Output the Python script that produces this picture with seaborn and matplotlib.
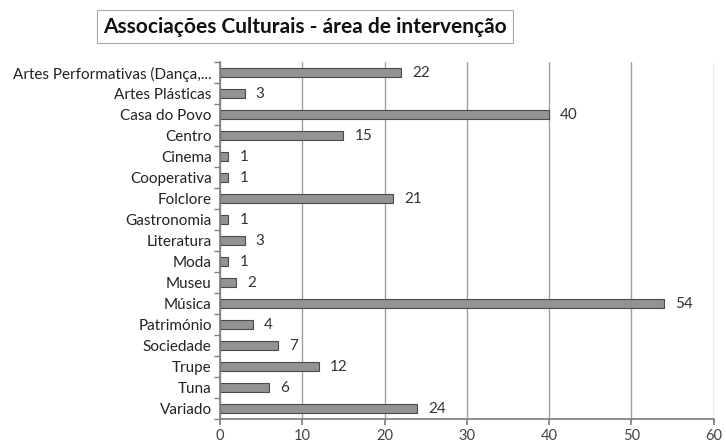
import matplotlib
matplotlib.use("Agg")
import matplotlib.pyplot as plt
import seaborn as sns
import pandas as pd

# Dados
categorias = ["Artes Performativas (Dança,...", "Artes Plásticas", "Casa do Povo", "Centro",
              "Cinema", "Cooperativa", "Folclore", "Gastronomia", "Literatura", "Moda",
              "Museu", "Música", "Património", "Sociedade", "Trupe", "Tuna", "Variado"]
valores = [22, 3, 40, 15, 1, 1, 21, 1, 3, 1, 2, 54, 4, 7, 12, 6, 24]
ticks_x = [0, 10, 20, 30, 40, 50, 60]

sns.set_theme(style="white")
plt.rcParams['font.family'] = ['Lato', 'DejaVu Sans']

df = pd.DataFrame({"area": categorias, "n": valores})

fig = plt.figure(figsize=(7.26, 4.45), dpi=100)
ax = fig.add_axes([0.303, 0.058, 0.68, 0.802])

sns.barplot(data=df, y="area", x="n", orient="h", color="#939393", width=0.44,
            edgecolor="#4a4a4a", linewidth=0.8, saturation=1, ax=ax)

# rótulos de valor
for p, v in zip(ax.patches, valores):
    ax.annotate(f"{v}", (p.get_width(), p.get_y() + p.get_height() / 2),
                xytext=(8, 0), textcoords="offset points", ha="left", va="center",
                fontsize=11, color="#333333")

ax.set_xlim(0, 60)
ax.set_xticks(ticks_x)
ax.set_ylim(len(categorias) - 0.5, -0.5)
ax.set_xlabel("")
ax.set_ylabel("")
ax.xaxis.grid(True, color="#a0a0a0", linewidth=1)
ax.set_axisbelow(True)
for s in ["top", "right"]:
    ax.spines[s].set_visible(False)
ax.spines["left"].set_color("#808080")
ax.spines["bottom"].set_color("#808080")
ax.tick_params(axis="x", labelsize=10.5, colors="#444444", length=4, direction="out",
               bottom=True, color="#808080", pad=3)
ax.tick_params(axis="y", labelsize=11, colors="#222222", length=0, pad=6)
# marcas do eixo y entre categorias
ax.set_yticks([i + 0.5 for i in range(-1, len(categorias))], minor=True)
ax.tick_params(axis="y", which="minor", left=True, length=4, color="#808080")

fig.text(0.42, 0.94, "Associações Culturais - área de intervenção", ha="center", va="center",
         fontsize=15, fontweight="bold", color="#111111",
         bbox=dict(boxstyle="square,pad=0.3", facecolor="white", edgecolor="#aaaaaa", linewidth=0.8))

plt.savefig("out.png", dpi=100)
